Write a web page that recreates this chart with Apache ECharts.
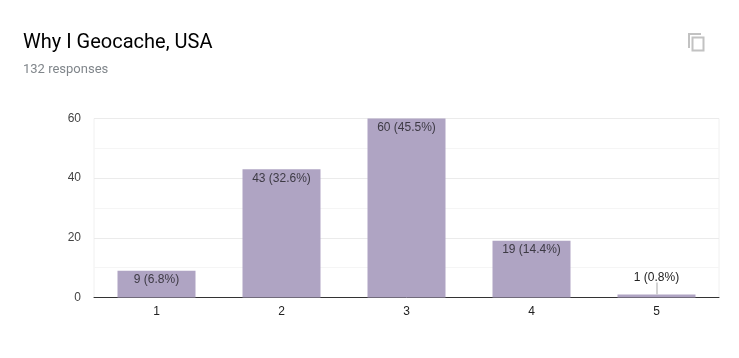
<!DOCTYPE html>
<html>
<head>
<meta charset="utf-8">
<title>Why I Geocache, USA</title>
<style>
    html, body { margin: 0; padding: 0; background: #fff; }
    #chart { width: 739px; height: 358px; }
</style>
<script src="https://cdn.jsdelivr.net/npm/echarts@6/dist/echarts.min.js"></script>
</head>
<body>
<div id="chart"></div>
<script>
const categories = ['1', '2', '3', '4', '5']
const counts = [9, 43, 60, 19, 1]
const percents = ['6.8%', '32.6%', '45.5%', '14.4%', '0.8%']
const yTicks = [0, 20, 40, 60]
const titleText = 'Why I Geocache, USA'
const subtitleText = '132 responses'

const chart = echarts.init(document.getElementById('chart'), null, { renderer: 'canvas' })

// 柱子数据,最后一根太矮,标签放到上面
const barData = counts.map((value, i) => {
    const small = value < 5
    return {
        value,
        label: {
            position: small ? 'top' : 'insideTop',
            distance: small ? 11 : 3,
            color: small ? '#222222' : '#3d3a44'
        }
    }
})

chart.setOption({
    animation: false,
    backgroundColor: '#ffffff',
    textStyle: { fontFamily: 'Arial, "Liberation Sans", sans-serif' },
    title: [
        {
            text: titleText,
            left: 18,
            top: 28,
            textStyle: { fontFamily: 'Roboto', fontSize: 20, fontWeight: 400, color: '#000000' }
        },
        {
            text: subtitleText,
            left: 18,
            top: 58,
            textStyle: { fontFamily: 'Roboto', fontSize: 13, fontWeight: 400, color: '#80868b' }
        }
    ],
    grid: {
        left: 94,
        right: 20,
        top: 118.5,
        bottom: 60.5,
        show: true,
        borderColor: '#f0f0f0',
        borderWidth: 1
    },
    xAxis: {
        type: 'category',
        data: categories,
        axisLine: { lineStyle: { color: '#333333', width: 1 } },
        axisTick: { show: false },
        axisLabel: { color: '#222222', fontSize: 12, margin: 8 }
    },
    yAxis: {
        type: 'value',
        min: yTicks[0],
        max: yTicks[yTicks.length - 1],
        interval: 20,
        axisLine: { show: false },
        axisTick: { show: false },
        axisLabel: { color: '#444444', fontSize: 12, margin: 13 },
        splitLine: { lineStyle: { color: '#ebebeb', width: 1 } },
        minorTick: { show: false, splitNumber: 2 },
        minorSplitLine: { show: true, lineStyle: { color: '#f5f5f5', width: 1 } }
    },
    series: [
        {
            type: 'bar',
            data: barData,
            barWidth: '62.4%',
            itemStyle: { color: '#afa4c3' },
            label: {
                show: true,
                fontSize: 12,
                formatter: p => `${counts[p.dataIndex]} (${percents[p.dataIndex]})`
            },
            // 第5根柱子的引线
            markLine: {
                silent: true,
                symbol: 'none',
                label: { show: false },
                lineStyle: { color: '#c4c4c4', type: 'solid', width: 1.5 },
                data: [[{ coord: ['5', 1] }, { coord: ['5', 5] }]]
            }
        }
    ],
    // 右上角复制图标
    graphic: [
        {
            type: 'polyline',
            shape: { points: [[689, 48], [689, 34], [701, 34]] },
            style: { stroke: '#c2c2c2', lineWidth: 2, fill: 'none' }
        },
        {
            type: 'rect',
            shape: { x: 692.5, y: 37.5, width: 11, height: 13 },
            style: { stroke: '#c2c2c2', lineWidth: 2, fill: 'none' }
        }
    ]
})
</script>
</body>
</html>
